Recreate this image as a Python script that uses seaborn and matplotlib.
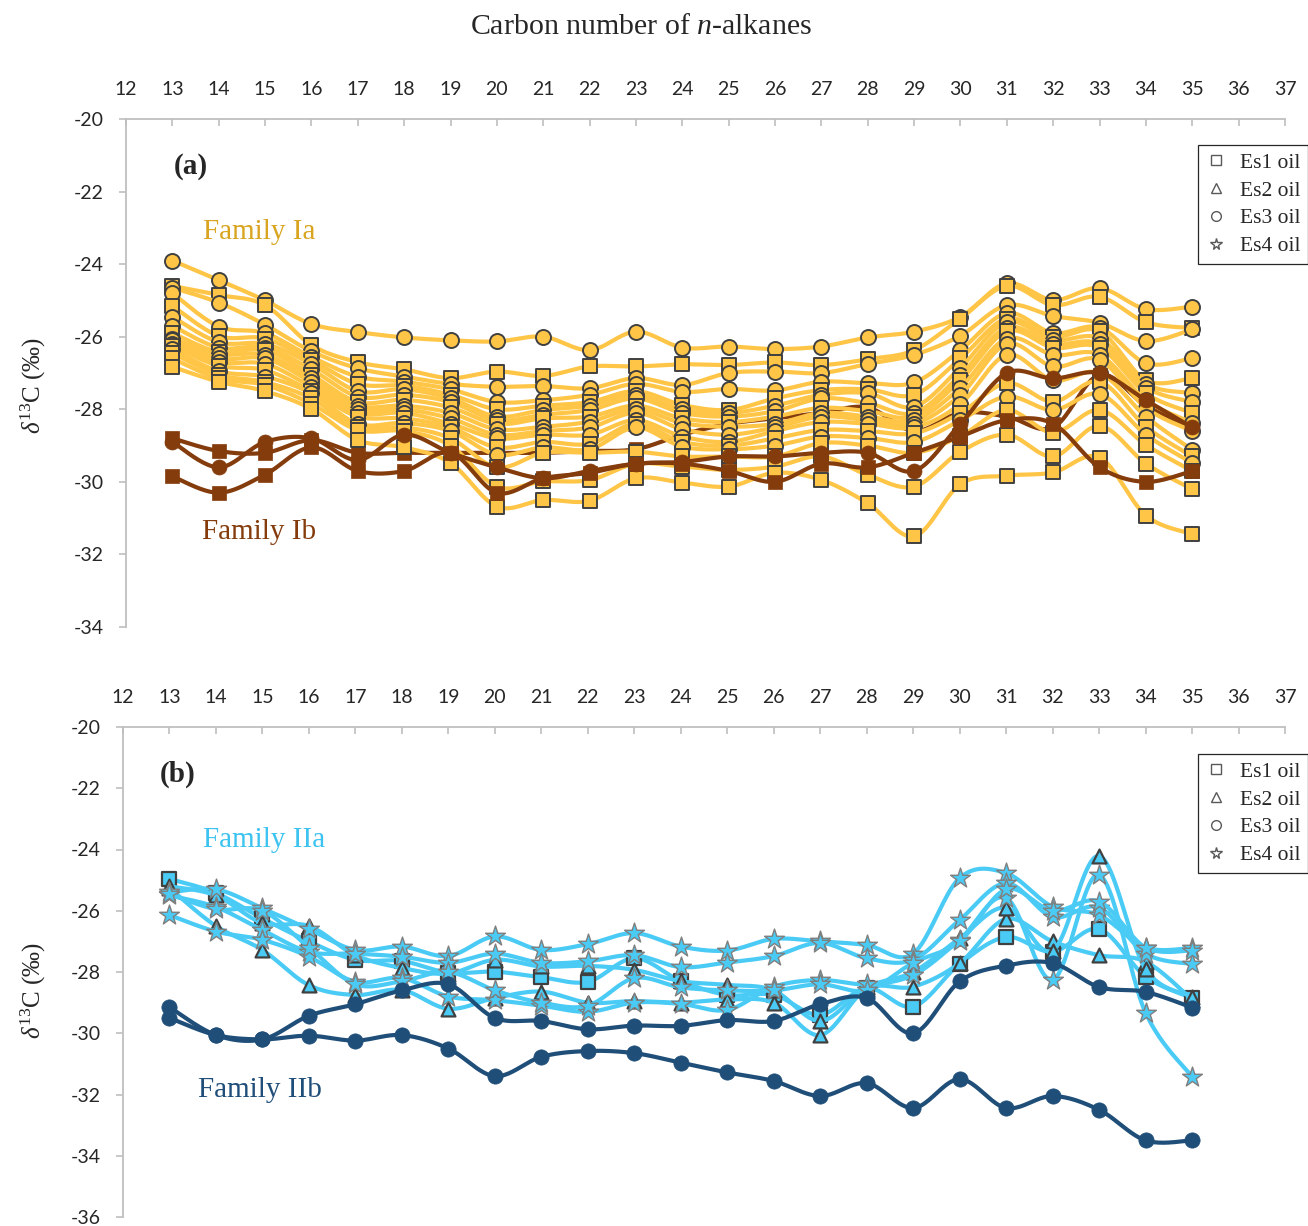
import numpy as np
import matplotlib
matplotlib.use("Agg")
import matplotlib.pyplot as plt
from matplotlib.lines import Line2D
import seaborn as sns

# ---------------------------------------------------------------- data
carbon = list(range(13, 36))

# Family Ia (yellow) - Es1 oils (squares) and Es3 oils (circles)
ia_01 = [-23.9, -24.44, -25.0, -25.65, -25.87, -26.02, -26.1, -26.13, -26.0, -26.37, -25.86, -26.3, -26.27, -26.34, -26.27, -26.02, -25.86, -25.45, -24.53, -24.99, -24.66, -25.24, -25.17]
ia_02 = [-24.6, -24.85, -25.13, -26.23, -26.7, -26.9, -27.14, -26.96, -27.08, -26.82, -26.82, -26.76, -26.78, -26.71, -26.78, -26.62, -26.37, -25.5, -24.6, -25.13, -24.9, -25.6, -25.76]
ia_03 = [-24.65, -25.06, -25.67, -26.4, -26.87, -27.1, -27.3, -27.38, -27.36, -27.42, -27.14, -27.33, -27.0, -26.96, -27.0, -26.75, -26.5, -25.97, -25.13, -25.43, -25.62, -26.12, -25.8]
ia_04 = [-24.8, -25.72, -25.9, -26.56, -27.1, -27.24, -27.45, -27.8, -27.75, -27.6, -27.3, -27.52, -27.44, -27.48, -27.24, -27.28, -27.26, -26.37, -25.35, -25.9, -25.75, -26.73, -26.59]
ia_05 = [-25.15, -25.98, -26.05, -26.65, -27.3, -27.35, -27.6, -28.0, -27.9, -27.8, -27.5, -27.88, -28.02, -27.7, -27.47, -27.45, -27.6, -26.6, -25.5, -26.0, -25.85, -27.2, -27.14]
ia_06 = [-25.45, -26.15, -26.2, -26.75, -27.5, -27.45, -27.7, -28.2, -28.02, -27.9, -27.6, -28.0, -28.1, -27.9, -27.6, -27.56, -27.93, -26.85, -25.6, -26.09, -26.05, -27.3, -27.55]
ia_07 = [-25.7, -26.3, -26.3, -26.9, -27.65, -27.6, -27.8, -28.3, -28.15, -28.02, -27.7, -28.1, -28.2, -28.05, -27.7, -27.83, -28.1, -27.05, -25.75, -26.2, -26.2, -27.4, -27.8]
ia_08 = [-25.9, -26.42, -26.37, -27.05, -27.8, -27.74, -27.95, -28.4, -28.25, -28.2, -27.9, -28.25, -28.35, -28.2, -27.96, -28.05, -28.2, -27.2, -25.85, -26.3, -26.3, -27.56, -28.1]
ia_09 = [-26.05, -26.48, -26.5, -27.15, -27.9, -27.9, -28.1, -28.55, -28.48, -28.34, -28.0, -28.38, -28.48, -28.4, -28.1, -28.2, -28.3, -27.4, -26.05, -26.5, -26.5, -27.75, -28.37]
ia_10 = [-26.1, -26.6, -26.6, -27.25, -28.0, -28.0, -28.25, -28.7, -28.6, -28.5, -28.1, -28.55, -28.7, -28.5, -28.2, -28.3, -28.4, -27.6, -26.2, -26.82, -26.64, -27.96, -28.6]
ia_11 = [-26.2, -26.7, -26.75, -27.38, -28.1, -28.1, -28.4, -28.8, -28.7, -28.7, -28.3, -28.75, -28.9, -28.6, -28.35, -28.4, -28.5, -27.85, -26.5, -27.2, -27.0, -28.2, -29.12]
ia_12 = [-26.25, -26.8, -26.92, -27.5, -28.2, -28.25, -28.5, -29.05, -28.9, -28.95, -28.4, -28.9, -29.0, -28.8, -28.57, -28.6, -28.66, -28.1, -27.28, -27.79, -27.24, -28.48, -29.3]
ia_13 = [-26.35, -26.95, -27.1, -27.56, -28.4, -28.38, -28.6, -29.25, -29.05, -29.1, -28.5, -29.03, -29.1, -29.0, -28.75, -28.79, -28.9, -28.3, -27.65, -28.02, -27.58, -28.7, -29.48]
ia_14 = [-26.45, -27.05, -27.25, -27.7, -28.5, -28.5, -28.8, -29.6, -29.2, -29.2, -29.17, -29.3, -29.3, -29.3, -28.93, -29.0, -29.2, -28.74, -28.02, -28.64, -28.02, -28.98, -29.7]
ia_15 = [-26.6, -27.15, -27.33, -27.85, -28.57, -28.6, -29.0, -30.13, -29.99, -29.95, -29.5, -29.58, -29.67, -29.58, -29.3, -29.81, -30.13, -29.17, -28.7, -29.3, -28.46, -29.5, -30.2]
ia_16 = [-26.83, -27.24, -27.5, -27.99, -28.85, -29.05, -29.48, -30.68, -30.5, -30.52, -29.9, -30.02, -30.13, -29.75, -29.95, -30.59, -31.5, -30.06, -29.83, -29.74, -29.33, -30.93, -31.44]
ia_series = [ia_01, ia_02, ia_03, ia_04, ia_05, ia_06, ia_07, ia_08,
             ia_09, ia_10, ia_11, ia_12, ia_13, ia_14, ia_15, ia_16]
ia_oil = ["Es3", "Es1", "Es3", "Es3", "Es1", "Es3", "Es3", "Es1",
          "Es3", "Es3", "Es3", "Es1", "Es3", "Es1", "Es1", "Es1"]

# Family Ib (brown); ib_1 sits beneath the Ia series, the others on top
ib_1 = [-28.8, -29.15, -29.2, -28.85, -29.2, -29.2, -29.2, -29.2, -29.2, -29.15, -29.1, -28.7, -28.4, -28.25, -28.1, -27.95, -28.6, -28.1, -28.2, -28.5, -27.05, -27.9, -28.5]
ib_2 = [-28.9, -29.6, -28.9, -28.8, -29.4, -28.7, -29.2, -29.6, -29.9, -29.7, -29.5, -29.45, -29.3, -29.3, -29.2, -29.2, -29.7, -28.4, -27.0, -27.15, -27.0, -27.75, -28.5]
ib_3 = [-29.85, -30.3, -29.8, -29.05, -29.7, -29.7, -29.2, -30.3, -29.9, -29.75, -29.5, -29.5, -29.7, -30.0, -29.5, -29.6, -29.2, -28.75, -28.3, -28.4, -29.6, -30.0, -29.7]
ib_oil = {"ib_1": "Es1", "ib_2": "Es3", "ib_3": "Es1"}

# Family IIa (light blue) - Es1 (squares), Es2 (triangles), Es4 (stars)
iia_sq1 = [-24.96, -25.42, -26.25, -27.0, -27.6, -27.64, -28.02, -27.99, -28.17, -28.32, -27.55, -28.29, -28.75, -28.75, -29.4, -28.52, -29.13, -27.74, -26.86, -27.34, -26.6, -28.15, -28.85]
iia_tr1 = [-25.26, -26.5, -27.28, -28.43, -28.75, -28.59, -29.2, -28.85, -28.64, -29.0, -28.95, -29.0, -28.9, -29.0, -30.06, -28.55, -28.48, -27.71, -26.27, -27.0, -27.45, -27.66, -28.9]
iia_tr2 = [-25.2, -25.5, -26.4, -26.5, -27.45, -27.87, -28.05, -27.6, -27.82, -27.8, -27.93, -28.3, -28.42, -28.6, -29.6, -28.5, -28.0, -26.9, -25.9, -27.3, -24.21, -27.9, -28.8]
iia_st1 = [-25.4, -25.3, -25.92, -26.6, -27.28, -27.17, -27.48, -26.84, -27.28, -27.09, -26.73, -27.17, -27.3, -26.92, -27.0, -27.12, -27.4, -24.93, -24.77, -25.87, -26.14, -27.2, -27.22]
iia_st2 = [-25.5, -25.88, -26.63, -27.34, -27.4, -27.5, -27.7, -27.4, -27.7, -27.65, -27.45, -27.84, -27.69, -27.48, -27.05, -27.55, -27.6, -26.3, -25.1, -26.2, -25.9, -27.4, -27.74]
iia_st3 = [-26.14, -26.68, -26.95, -27.5, -28.32, -28.2, -28.8, -28.92, -29.1, -29.3, -29.0, -29.04, -29.24, -28.48, -28.26, -28.4, -28.1, -26.95, -25.58, -28.26, -24.83, -29.33, -31.42]
iia_st4 = [-25.45, -25.95, -26.0, -27.2, -28.4, -28.3, -28.0, -28.6, -29.0, -29.1, -28.2, -28.5, -28.6, -28.6, -28.4, -28.6, -27.7, -27.0, -25.3, -26.0, -25.7, -27.2, -27.3]
iia_series = [iia_sq1, iia_tr1, iia_tr2, iia_st1, iia_st2, iia_st3, iia_st4]
iia_oil = ["Es1", "Es2", "Es2", "Es4", "Es4", "Es4", "Es4"]

# Family IIb (dark blue) - Es3 oils
iib_1 = [-29.15, -30.06, -30.2, -29.43, -29.05, -28.6, -28.4, -29.5, -29.6, -29.87, -29.75, -29.76, -29.57, -29.6, -29.05, -28.85, -30.0, -28.31, -27.79, -27.71, -28.49, -28.65, -29.16]
iib_2 = [-29.5, -30.06, -30.2, -30.08, -30.24, -30.06, -30.5, -31.4, -30.77, -30.58, -30.65, -30.96, -31.28, -31.56, -32.05, -31.63, -32.44, -31.5, -32.44, -32.05, -32.5, -33.5, -33.5]
iib_series = [iib_1, iib_2]

oil_types = ["Es1 oil", "Es2 oil", "Es3 oil", "Es4 oil"]
oil_marker = {"Es1": "s", "Es2": "^", "Es3": "o", "Es4": "*"}

# ---------------------------------------------------------------- style
sns.set_theme(style="white")
plt.rcParams["font.family"] = ["Liberation Serif", "DejaVu Serif"]
plt.rcParams["axes.unicode_minus"] = False
plt.rcParams["mathtext.fontset"] = "custom"
plt.rcParams["mathtext.rm"] = "Liberation Serif"
plt.rcParams["mathtext.it"] = "Liberation Serif:italic"

TICK_FONT = "Lato"
GRID_GREY = "#BFBFBF"
EDGE = "#404040"

YELLOW, YELLOW_TXT = "#FFC546", "#D9A520"
BROWN = "#843C0C"
LBLUE, LBLUE_TXT = "#4ACBF5", "#3CC3F0"
DBLUE = "#1F4E79"

W, H = 1308, 1226
fig = plt.figure(figsize=(W / 100, H / 100), dpi=100)


def px_axes(x0, y0, x1, y1):
    return fig.add_axes([x0 / W, 1 - y1 / H, (x1 - x0) / W, (y1 - y0) / H])


def smooth_curve(x, y, n=24):
    """Catmull-Rom (Bezier, tension 1/6) smoothing as used by spreadsheet charts."""
    x = np.asarray(x, float)
    y = np.asarray(y, float)
    px = np.concatenate([[x[0]], x, [x[-1]]])
    py = np.concatenate([[y[0]], y, [y[-1]]])
    t = np.linspace(0, 1, n)[:, None]
    xs, ys = [], []
    for i in range(len(x) - 1):
        p0 = np.array([px[i], py[i]])
        p1 = np.array([px[i + 1], py[i + 1]])
        p2 = np.array([px[i + 2], py[i + 2]])
        p3 = np.array([px[i + 3], py[i + 3]])
        c1 = p1 + (p2 - p0) / 6
        c2 = p2 - (p3 - p1) / 6
        b = ((1 - t) ** 3) * p1 + 3 * ((1 - t) ** 2) * t * c1 + 3 * (1 - t) * t ** 2 * c2 + t ** 3 * p2
        if i > 0:
            b = b[1:]
        xs.append(b[:, 0])
        ys.append(b[:, 1])
    return np.concatenate(xs), np.concatenate(ys)


def draw_series(ax, values, marker, color, lw, msize, edge, ew):
    sx, sy = smooth_curve(carbon, values)
    sns.lineplot(x=sx, y=sy, ax=ax, color=color, lw=lw, sort=False,
                 estimator=None, legend=False, zorder=2)
    sns.scatterplot(x=carbon, y=values, ax=ax, marker=marker, s=msize ** 2,
                    color=color, edgecolor=edge, linewidth=ew,
                    legend=False, zorder=2)


def style_axes(ax, ymin, ymax):
    ax.set_xlim(12, 37)
    ax.set_ylim(ymin, ymax)
    ax.set_xticks(range(12, 38))
    ax.set_yticks(range(ymin, ymax + 1, 2))
    ax.xaxis.tick_top()
    for side in ("right", "bottom"):
        ax.spines[side].set_visible(False)
    for side in ("left", "top"):
        ax.spines[side].set_color(GRID_GREY)
        ax.spines[side].set_linewidth(1.3)
    ax.tick_params(axis="x", direction="in", length=5, width=1.2,
                   color=GRID_GREY, pad=15, labelsize=14,
                   top=True, bottom=False, labeltop=True, labelbottom=False)
    ax.tick_params(axis="y", direction="out", length=5, width=1.2,
                   color=GRID_GREY, pad=11, labelsize=14, left=True)
    for lab in ax.get_xticklabels() + ax.get_yticklabels():
        lab.set_fontfamily(TICK_FONT)
    ax.set_xlabel("")
    ax.set_ylabel("")
    ax.set_facecolor("white")


def add_legend(ax, top_px):
    handles = [Line2D([], [], ls="none", marker=oil_marker[o.split()[0]],
                      markersize=8.5 if o.startswith("Es4") else 7,
                      markerfacecolor="white", markeredgecolor="#595959",
                      markeredgewidth=1.0) for o in oil_types]
    leg = ax.legend(handles, oil_types, loc="upper right",
                    bbox_to_anchor=(1.0, 1 - top_px / H),
                    bbox_transform=fig.transFigure, frameon=True,
                    fancybox=False, framealpha=1, edgecolor="#262626",
                    fontsize=15.5, handlelength=1.0, handletextpad=0.6,
                    labelspacing=0.36, borderpad=0.36, borderaxespad=0)
    leg.get_frame().set_linewidth(0.9)


def ftext(x, y, s, **kw):
    fig.text(x / W, 1 - y / H, s, ha="center", va="center", **kw)


# ---------------------------------------------------------------- panel (a)
ax_a = px_axes(126, 119, 1285, 627)
BROWN_KW = dict(color=BROWN, lw=3.0, edge=BROWN, ew=0.5)
draw_series(ax_a, ib_1, oil_marker[ib_oil["ib_1"]], msize=10.0, **BROWN_KW)
for vals, oil in zip(ia_series, ia_oil):
    mk = oil_marker[oil]
    draw_series(ax_a, vals, mk, YELLOW, 3.0, 10.8 if mk == "o" else 10.0, EDGE, 1.4)
for name, vals in (("ib_2", ib_2), ("ib_3", ib_3)):
    mk = oil_marker[ib_oil[name]]
    draw_series(ax_a, vals, mk, msize=10.8 if mk == "o" else 10.0, **BROWN_KW)
style_axes(ax_a, -34, -20)
add_legend(ax_a, 145)

# ---------------------------------------------------------------- panel (b)
ax_b = px_axes(123, 727, 1285, 1217)
for vals, oil in zip(iia_series, iia_oil):
    mk = oil_marker[oil]
    if mk == "*":
        draw_series(ax_b, vals, mk, LBLUE, 3.0, 15.0, "#7F7F7F", 1.0)
    else:
        draw_series(ax_b, vals, mk, LBLUE, 3.0, 10.0, EDGE, 1.6)
for vals in iib_series:
    draw_series(ax_b, vals, "o", DBLUE, 3.0, 11.0, DBLUE, 0.5)
style_axes(ax_b, -36, -20)
add_legend(ax_b, 754)

# ---------------------------------------------------------------- annotations
ftext(641, 27, r"Carbon number of $\mathit{n}$-alkanes", fontsize=21.5)
ylab = r"$\mathit{\delta}^{13}$C (‰)"
ftext(33, 385, ylab, fontsize=18, rotation=90)
ftext(33, 990, ylab, fontsize=18, rotation=90)

ftext(191, 166, "(a)", fontsize=21, fontweight="bold")
ftext(178, 774, "(b)", fontsize=21, fontweight="bold")
ftext(259, 232, "Family Ia", fontsize=21, color=YELLOW_TXT)
ftext(259, 532, "Family Ib", fontsize=21, color=BROWN)
ftext(264, 840, "Family IIa", fontsize=21, color=LBLUE_TXT)
ftext(260, 1090, "Family IIb", fontsize=21, color=DBLUE)

fig.savefig("out.png", dpi=100, facecolor="white")
